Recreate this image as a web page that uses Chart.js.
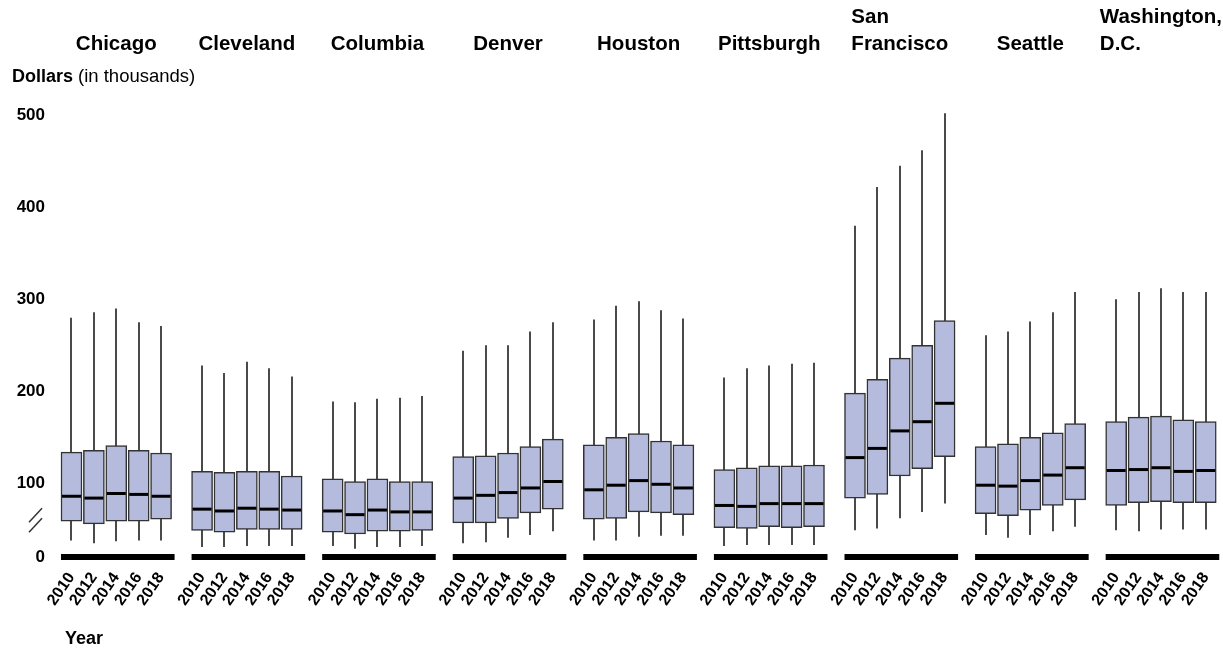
<!DOCTYPE html>
<html>
<head>
<meta charset="utf-8">
<script src="https://cdn.jsdelivr.net/npm/chart.js@4/dist/chart.umd.min.js"></script>
<style>
html,body{margin:0;padding:0;background:#fff;}
#wrap{width:1223px;height:648px;position:relative;}
</style>
</head>
<body>
<div id="wrap"><canvas id="c"></canvas></div>
<script>
// ---- data ----
const cities = ['Chicago', 'Cleveland', 'Columbia', 'Denver', 'Houston', 'Pittsburgh', ['San', 'Francisco'], 'Seattle', ['Washington,', 'D.C.']];
const years = ['2010', '2012', '2014', '2016', '2018'];
const maxVals = [
  [280, 286, 290, 275, 271],
  [228, 220, 232, 225, 216],
  [189, 188, 192, 193, 195],
  [244, 250, 250, 265, 275],
  [278, 293, 298, 288, 279],
  [215, 225, 228, 230, 231],
  [380, 422, 445, 462, 502],
  [261, 265, 276, 286, 308],
  [300, 308, 312, 308, 308]
];
const q3Vals = [
  [134, 136, 141, 136, 133],
  [113, 112, 113, 113, 108],
  [105, 102, 105, 102, 102],
  [129, 130, 133, 140, 148],
  [142, 150, 154, 146, 142],
  [115, 117, 119, 119, 120],
  [198, 213, 236, 250, 277],
  [140, 143, 150, 155, 165],
  [167, 172, 173, 169, 167]
];
const medianVals = [
  [86, 84, 89, 88, 86],
  [72, 70, 73, 72, 71],
  [70, 66, 71, 69, 69],
  [84, 87, 90, 95, 102],
  [93, 98, 103, 99, 95],
  [76, 75, 78, 78, 78],
  [128, 138, 157, 167, 187],
  [98, 97, 103, 109, 117],
  [114, 115, 117, 113, 114]
];
const q1Vals = [
  [59, 56, 59, 59, 61],
  [49, 47, 50, 50, 50],
  [47, 45, 48, 48, 49],
  [57, 57, 62, 68, 72],
  [61, 62, 69, 68, 66],
  [52, 51, 53, 52, 53],
  [84, 88, 108, 116, 129],
  [67, 65, 71, 76, 82],
  [76, 79, 80, 79, 79]
];
const minVals = [
  [38, 35, 37, 38, 38],
  [31, 31, 32, 32, 32],
  [32, 29, 31, 31, 32],
  [35, 36, 41, 44, 48],
  [38, 38, 42, 43, 43],
  [32, 33, 33, 33, 33],
  [49, 51, 62, 69, 78],
  [44, 41, 44, 48, 53],
  [49, 48, 50, 50, 50]
];
const yTickValues = [20, 100, 200, 300, 400, 500];
const yTickLabels = ['0', '100', '200', '300', '400', '500'];

// ---- layout of categories on the x scale ----
const GROUP_STEP = 5.83;
const xPos = [];
const boxes = [];
const whiskers = [];
const medians = [];
cities.forEach((c, g) => {
  years.forEach((y, i) => {
    const x = g * GROUP_STEP + i;
    xPos.push(x);
    boxes.push({x: x, y: [q1Vals[g][i], q3Vals[g][i]]});
    whiskers.push({x: x, lo: minVals[g][i], hi: maxVals[g][i]});
    medians.push({x: x, v: medianVals[g][i]});
  });
});

const FONT = '"Liberation Sans", Arial, Helvetica, sans-serif';
const BOX_W = 21;

const decor = {
  id: 'decor',
  beforeDatasetsDraw(chart) {
    const ctx = chart.ctx, xs = chart.scales.x, ys = chart.scales.y;
    ctx.save();
    // whiskers
    ctx.strokeStyle = '#4a4a4a';
    ctx.lineWidth = 2;
    whiskers.forEach(w => {
      const px = Math.round(xs.getPixelForValue(w.x));
      ctx.beginPath();
      ctx.moveTo(px, ys.getPixelForValue(w.lo));
      ctx.lineTo(px, ys.getPixelForValue(w.hi));
      ctx.stroke();
    });
    // thick group baselines
    ctx.strokeStyle = '#000';
    ctx.lineWidth = 6;
    const yb = ys.getPixelForValue(yTickValues[0]);
    cities.forEach((c, g) => {
      const x0 = xs.getPixelForValue(xPos[g * 5]) - BOX_W / 2;
      const x1 = xs.getPixelForValue(xPos[g * 5 + 4]) + BOX_W / 2 + 3;
      ctx.beginPath();
      ctx.moveTo(x0, yb);
      ctx.lineTo(x1, yb);
      ctx.stroke();
    });
    ctx.restore();
  },
  afterDatasetsDraw(chart) {
    const ctx = chart.ctx, xs = chart.scales.x, ys = chart.scales.y;
    ctx.save();
    ctx.strokeStyle = '#000';
    ctx.lineWidth = 3;
    medians.forEach(m => {
      const px = xs.getPixelForValue(m.x);
      const py = ys.getPixelForValue(m.v);
      ctx.beginPath();
      ctx.moveTo(px - BOX_W / 2 + 1, py);
      ctx.lineTo(px + BOX_W / 2 - 1, py);
      ctx.stroke();
    });
    ctx.restore();
  },
  afterDraw(chart) {
    const ctx = chart.ctx, xs = chart.scales.x, ys = chart.scales.y;
    ctx.save();
    ctx.fillStyle = '#000';
    ctx.textBaseline = 'alphabetic';
    ctx.textAlign = 'left';
    // city titles
    ctx.font = 'bold 20.5px ' + FONT;
    cities.forEach((c, g) => {
      const lines = Array.isArray(c) ? c : [c];
      const cx = (xs.getPixelForValue(xPos[g * 5]) + xs.getPixelForValue(xPos[g * 5 + 4])) / 2;
      const w = Math.max(...lines.map(l => ctx.measureText(l).width));
      const left = cx - w / 2;
      lines.forEach((l, k) => {
        ctx.fillText(l, left, 50 - (lines.length - 1 - k) * 27);
      });
    });
    // y axis title
    ctx.font = 'bold 18px ' + FONT;
    ctx.fillText('Dollars', 12, 82);
    const dw = ctx.measureText('Dollars ').width;
    ctx.font = '18.5px ' + FONT;
    ctx.fillText('(in thousands)', 12 + dw, 82);
    // x axis title
    ctx.font = 'bold 18px ' + FONT;
    ctx.fillText('Year', 65, 644);
    // axis break marks
    const mid = (ys.getPixelForValue(yTickValues[0]) + ys.getPixelForValue(yTickValues[1])) / 2;
    ctx.strokeStyle = '#333';
    ctx.lineWidth = 1.5;
    [-5, 5].forEach(off => {
      ctx.beginPath();
      ctx.moveTo(29, mid + off + 7);
      ctx.lineTo(42, mid + off - 7);
      ctx.stroke();
    });
    ctx.restore();
  }
};

new Chart(document.getElementById('c'), {
  type: 'bar',
  data: {
    datasets: [{
      data: boxes,
      backgroundColor: '#b5bbdd',
      borderColor: '#333333',
      borderWidth: 1.5,
      borderSkipped: false,
      barThickness: BOX_W
    }]
  },
  options: {
    responsive: true,
    maintainAspectRatio: false,
    animation: false,
    layout: {padding: {top: 106, bottom: 0, left: 0, right: 0}},
    plugins: {legend: {display: false}, tooltip: {enabled: false}},
    scales: {
      x: {
        type: 'linear',
        offset: false,
        min: -0.87,
        max: 51.41,
        grid: {display: false, drawTicks: false, offset: false},
        border: {display: false},
        ticks: {
          autoSkip: false,
          minRotation: 55,
          maxRotation: 55,
          padding: 12,
          color: '#000',
          font: {family: FONT, size: 16, weight: 'bold'},
          callback: (v, i) => years[i % years.length]
        },
        afterBuildTicks: s => { s.ticks = xPos.map(v => ({value: v})); },
        afterFit: s => { s.height = 91; s.paddingLeft = 0; s.paddingRight = 0; }
      },
      y: {
        type: 'linear',
        min: 20,
        max: 510,
        grid: {display: false, drawTicks: false},
        border: {display: false},
        ticks: {
          padding: 7,
          color: '#000',
          font: {family: FONT, size: 17, weight: 'bold'},
          callback: (v, i) => yTickLabels[i]
        },
        afterBuildTicks: s => { s.ticks = yTickValues.map(v => ({value: v})); },
        afterFit: s => { s.width = 52; s.paddingTop = 0; s.paddingBottom = 0; }
      }
    }
  },
  plugins: [decor]
});
</script>
</body>
</html>
